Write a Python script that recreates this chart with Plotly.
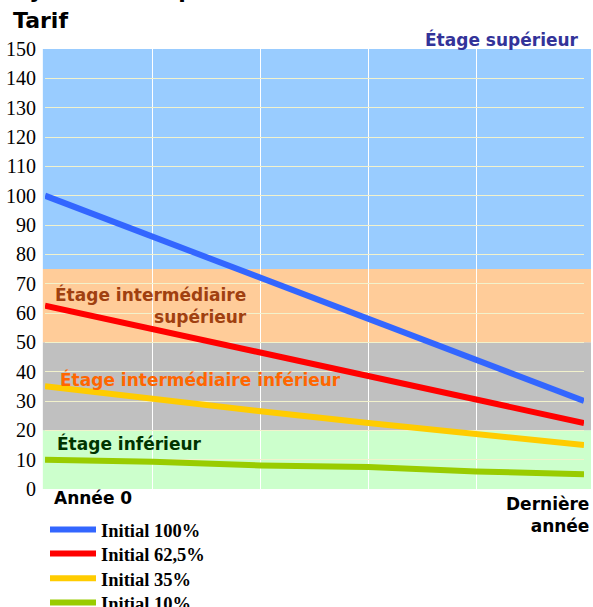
import plotly.graph_objects as go

years = [0, 1, 2, 3, 4, 5]
series_names = ["Initial 100%", "Initial 62,5%", "Initial 35%", "Initial 10%"]
initial_100 = [100, 86, 72, 58, 44, 30]
initial_62 = [62.5, 54.5, 46.5, 38.5, 30.5, 22.5]
initial_35 = [35, 30.5, 26.5, 22.5, 18.5, 15]
initial_10 = [10, 9.3, 8, 7.5, 6, 5]
series_colors = ["#3366FF", "#FF0000", "#FFCC00", "#99CC00"]

band_edges = [0, 20, 50, 75, 157.5]
band_colors = ["#CCFFCC", "#C0C0C0", "#FFCC99", "#99CCFF"]
y_ticks = list(range(0, 151, 10))

fig = go.Figure()

for k in range(4):
    fig.add_shape(type="rect", xref="paper", yref="y", x0=-0.004, x1=1.013,
                  y0=band_edges[k], y1=band_edges[k + 1],
                  fillcolor=band_colors[k], line_width=0, layer="below")

legend_ids = ["legend", "legend2", "legend3", "legend4"]
for name, vals, col, lg in zip(series_names, [initial_100, initial_62, initial_35, initial_10],
                               series_colors, legend_ids):
    fig.add_trace(go.Scatter(x=years, y=vals, mode="lines", name=name, legend=lg,
                             line=dict(color=col, width=6)))

bold_sans = dict(family="DejaVu Sans", size=17, weight="bold")
ann = [
    dict(text="Étage supérieur", x=0.995, xanchor="right", y=1.0227, align="left", color="#333399"),
    dict(text="Étage intermédiaire<br>supérieur", x=0.015, xanchor="left", y=0.418, align="right", color="#A04010"),
    dict(text="Étage intermédiaire inférieur", x=0.024, xanchor="left", y=0.248, align="left", color="#FF6600"),
    dict(text="Étage inférieur", x=0.0186, xanchor="left", y=0.1045, align="left", color="#003300"),
    dict(text="Année 0", x=0.013, xanchor="left", y=-0.0205, align="left", color="black"),
    dict(text="Dernière<br>année", x=1.013, xanchor="right", y=-0.058, align="right", color="black"),
]
for a in ann:
    fig.add_annotation(text=a["text"], xref="paper", yref="paper", x=a["x"], y=a["y"],
                       xanchor=a["xanchor"], yanchor="middle", showarrow=False,
                       align=a["align"], font=dict(bold_sans, color=a["color"]))

fig.add_annotation(text="Cycle des étapes", xref="paper", yref="paper", x=-0.063, y=1.1,
                   xanchor="left", yanchor="bottom", showarrow=False,
                   font=dict(family="DejaVu Sans", size=22, weight="bold", color="black"))
fig.add_annotation(text="Tarif", xref="paper", yref="paper", x=-0.063, y=1.097,
                   xanchor="left", yanchor="top", showarrow=False,
                   font=dict(family="DejaVu Sans", size=22, weight="bold", color="black"))

legend_style = dict(x=0, xanchor="left", yanchor="top",
                    font=dict(family="Liberation Serif", size=18.5, weight="bold", color="black"),
                    bgcolor="rgba(0,0,0,0)", itemwidth=46)
legend_tops = [-0.05, -0.1045, -0.161, -0.216]

fig.update_layout(
    width=593, height=607,
    margin=dict(l=45, r=9, t=49, b=118, autoexpand=False),
    plot_bgcolor="rgba(0,0,0,0)", paper_bgcolor="white",
    showlegend=True,
    legend=dict(legend_style, y=legend_tops[0]),
    legend2=dict(legend_style, y=legend_tops[1]),
    legend3=dict(legend_style, y=legend_tops[2]),
    legend4=dict(legend_style, y=legend_tops[3]),
    xaxis=dict(range=[0, 5], showticklabels=False, showgrid=True, gridcolor="white",
               gridwidth=1, tickvals=years, zeroline=False, showline=False, automargin=False),
    yaxis=dict(range=[0, 150], tickvals=y_ticks, showgrid=True, gridcolor="#F2F2CC",
               gridwidth=1, zeroline=False, showline=False, ticks="", automargin=False,
               tickfont=dict(family="Liberation Serif", size=20, color="black"),
               ticklabelstandoff=8),
)

fig.write_html("out.html", config={"displayModeBar": False},
               post_script="document.body.style.margin='0';document.body.style.overflow='hidden';")
